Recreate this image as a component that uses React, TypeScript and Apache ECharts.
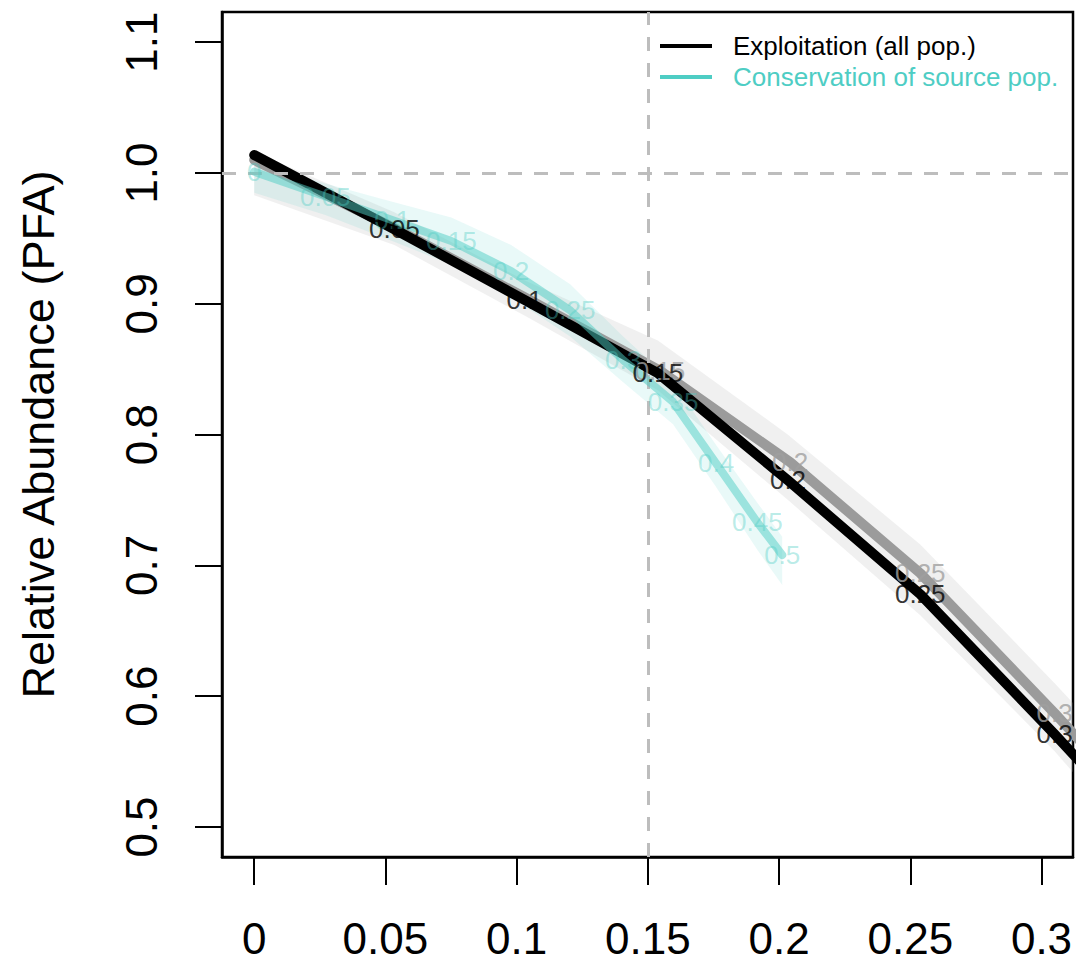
import React, { useEffect, useRef } from "react";
import * as echarts from "echarts";

// ---- data ----
const xTicks = [0, 0.05, 0.1, 0.15, 0.2, 0.25, 0.3];
const xTickLabels = ["0", "0.05", "0.1", "0.15", "0.2", "0.25", "0.3"];
const yTicks = [0.5, 0.6, 0.7, 0.8, 0.9, 1.0, 1.1];
const yTickLabels = ["0.5", "0.6", "0.7", "0.8", "0.9", "1.0", "1.1"];

// Exploitation (all pop.) – black line
const exploitX = [0, 0.0534, 0.103, 0.1538, 0.2034, 0.2538, 0.305, 0.356];
const exploitY = [1.0138, 0.957, 0.903, 0.847, 0.765, 0.678, 0.571, 0.46];
const exploitLabels = ["", "0.05", "0.1", "0.15", "0.2", "0.25", "0.3", ""];

// second exploitation scenario – grey line
const greyX = [0, 0.0534, 0.103, 0.1546, 0.2042, 0.2538, 0.305, 0.356];
const greyY = [1.01, 0.958, 0.905, 0.849, 0.779, 0.694, 0.587, 0.475];
const greyLabels = ["", "", "", "0.15", "0.2", "0.25", "0.3", ""];

// exploitation uncertainty band
const greyBandX = [0, 0.0534, 0.103, 0.1538, 0.2034, 0.2538, 0.305, 0.356];
const greyBandHi = [1.016, 0.97, 0.918, 0.872, 0.8, 0.716, 0.61, 0.5];
const greyBandLo = [0.983, 0.945, 0.891, 0.834, 0.75, 0.662, 0.558, 0.44];

// Conservation of source pop. – cyan line
const consX = [0, 0.0271, 0.0526, 0.0751, 0.0979, 0.1204, 0.1406, 0.1596, 0.176, 0.1917, 0.2012];
const consY = [1.001, 0.982, 0.964, 0.948, 0.925, 0.895, 0.857, 0.825, 0.778, 0.733, 0.708];
const consLabels = ["0", "0.05", "0.1", "0.15", "0.2", "0.25", "0.3", "0.35", "0.4", "0.45", "0.5"];
const consBandHi = [1.008, 0.992, 0.978, 0.966, 0.945, 0.915, 0.875, 0.84, 0.792, 0.748, 0.722];
const consBandLo = [0.985, 0.968, 0.948, 0.93, 0.905, 0.875, 0.84, 0.808, 0.76, 0.712, 0.685];

const LEG_EXPLOIT = "Exploitation (all pop.)";
const LEG_CONS = "Conservation of source pop.";

const FONT = "Liberation Sans";
const CYAN = "#4ECDC4";

function bandSeries(xs: number[], lo: number[], hi: number[], color: string, z: number) {
  return {
    type: "custom",
    z,
    clip: true,
    silent: true,
    data: xs.map((x, i) => [x, lo[i], hi[i]]),
    renderItem: (params: any, api: any) => {
      if (params.dataIndex !== 0) return null;
      const pts: number[][] = [];
      for (let i = 0; i < xs.length; i++) pts.push(api.coord([xs[i], hi[i]]));
      for (let i = xs.length - 1; i >= 0; i--) pts.push(api.coord([xs[i], lo[i]]));
      return { type: "polygon", shape: { points: pts }, style: { fill: color } };
    },
  };
}

function labelSeries(xs: number[], ys: number[], labels: string[], color: string, z: number) {
  return {
    type: "scatter",
    z,
    silent: true,
    symbolSize: 1,
    itemStyle: { color: "rgba(0,0,0,0)" },
    data: xs.map((x, i) => ({ value: [x, ys[i]], name: labels[i] })),
    label: {
      show: true,
      position: "inside",
      formatter: (p: any) => p.name,
      color,
      fontSize: 26,
      fontFamily: FONT,
    },
  };
}

export default function App() {
  const ref = useRef<HTMLDivElement>(null);
  useEffect(() => {
    const chart = echarts.init(ref.current!, null, { renderer: "svg" });
    chart.setOption({
      animation: false,
      backgroundColor: "#fff",
      grid: {
        left: 222,
        right: 3,
        top: 12,
        bottom: 107,
        show: true,
        borderColor: "#000",
        borderWidth: 2.5,
        containLabel: false,
      },
      legend: {
        orient: "vertical",
        left: 660,
        top: 33,
        padding: 0,
        icon: "rect",
        itemWidth: 52,
        itemHeight: 4,
        itemGap: 5,
        selectedMode: false,
        textStyle: { fontSize: 26, fontFamily: FONT, padding: [0, 0, 0, 16] },
        data: [
          { name: LEG_EXPLOIT, textStyle: { color: "#000" } },
          { name: LEG_CONS, textStyle: { color: CYAN } },
        ],
      },
      xAxis: {
        type: "value",
        position: "bottom",
        min: -0.01227,
        max: 0.312,
        axisLine: { show: true, onZero: false, lineStyle: { color: "#000", width: 2.5 } },
        splitLine: { show: false },
        axisTick: { show: true, inside: false, length: 28, customValues: xTicks, lineStyle: { color: "#000", width: 2 } },
        axisLabel: {
          customValues: xTicks,
          margin: 59,
          fontSize: 44,
          fontFamily: FONT,
          color: "#000",
          formatter: (v: number) => {
            const i = xTicks.findIndex((t) => Math.abs(t - v) < 1e-9);
            return i >= 0 ? xTickLabels[i] : "";
          },
        },
      },
      yAxis: {
        type: "value",
        position: "left",
        min: 0.4771,
        max: 1.1231,
        name: "Relative Abundance (PFA)",
        nameLocation: "middle",
        nameRotate: 90,
        nameGap: 161,
        nameTextStyle: { fontSize: 45, fontFamily: FONT, color: "#000" },
        axisLine: { show: true, onZero: false, lineStyle: { color: "#000", width: 2.5 } },
        splitLine: { show: false },
        axisTick: { show: true, inside: false, length: 27, customValues: yTicks, lineStyle: { color: "#000", width: 2 } },
        axisLabel: {
          customValues: yTicks,
          rotate: 90,
          margin: 59,
          fontSize: 44,
          fontFamily: FONT,
          color: "#000",
          formatter: (v: number) => {
            const i = yTicks.findIndex((t) => Math.abs(t - v) < 1e-9);
            return i >= 0 ? yTickLabels[i] : "";
          },
        },
      },
      series: [
        bandSeries(greyBandX, greyBandLo, greyBandHi, "rgba(170,170,170,0.18)", 1),
        bandSeries(consX, consBandLo, consBandHi, "rgba(78,205,196,0.12)", 1),
        {
          type: "line",
          name: "refLines",
          z: 2,
          data: [],
          silent: true,
          markLine: {
            silent: true,
            symbol: "none",
            label: { show: false },
            lineStyle: { color: "#bdbdbd", width: 3, type: [14, 12] },
            data: [{ yAxis: 1 }, { xAxis: 0.15 }],
          },
        },
        {
          type: "line",
          name: "grey",
          z: 3,
          silent: true,
          symbol: "none",
          data: greyX.map((x, i) => [x, greyY[i]]),
          lineStyle: { color: "#9b9b9b", width: 10, cap: "round", join: "round" },
        },
        {
          type: "line",
          name: "exploit",
          z: 4,
          silent: true,
          symbol: "none",
          data: exploitX.map((x, i) => [x, exploitY[i]]),
          lineStyle: { color: "#000", width: 10, cap: "round", join: "round" },
        },
        {
          type: "line",
          name: "cons",
          z: 5,
          silent: true,
          symbol: "none",
          data: consX.map((x, i) => [x, consY[i]]),
          lineStyle: { color: CYAN, opacity: 0.5, width: 8, cap: "round", join: "round" },
        },
        labelSeries(consX, consY, consLabels, "rgba(78,205,196,0.5)", 6),
        labelSeries(greyX, greyY, greyLabels, "#a0a0a0", 7),
        labelSeries(exploitX, exploitY, exploitLabels, "#000", 8),
        {
          type: "line",
          name: LEG_EXPLOIT,
          data: [],
          symbol: "none",
          color: "#000",
          itemStyle: { color: "#000" },
          lineStyle: { color: "#000", width: 4 },
        },
        {
          type: "line",
          name: LEG_CONS,
          data: [],
          symbol: "none",
          color: CYAN,
          itemStyle: { color: CYAN },
          lineStyle: { color: CYAN, width: 4 },
        },
      ],
    });
    return () => chart.dispose();
  }, []);
  return (
    <div
      ref={ref}
      style={{ position: "absolute", left: 0, top: 0, width: 1076, height: 964 }}
    />
  );
}
